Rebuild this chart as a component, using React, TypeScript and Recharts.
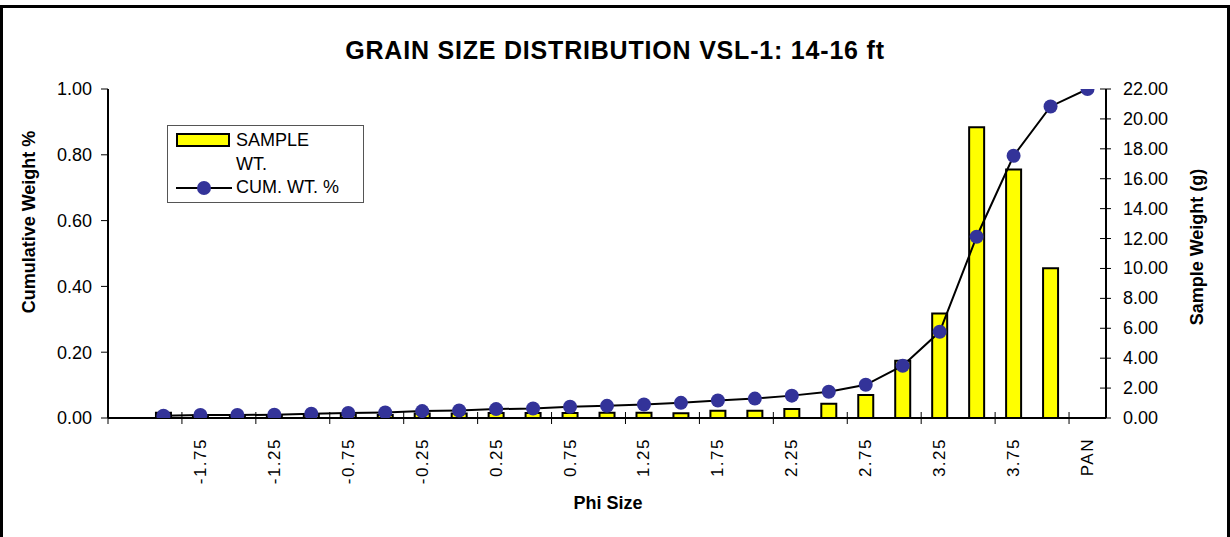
import React from "react";
import {
  ComposedChart,
  Bar,
  Line,
  XAxis,
  YAxis,
} from "recharts";

// phi size classes (first slot is an empty spacer category, as in the original sheet)
const phiSizes = [
  "", "-2.00", "-1.75", "-1.50", "-1.25", "-1.00", "-0.75", "-0.50", "-0.25",
  "0.00", "0.25", "0.50", "0.75", "1.00", "1.25", "1.50", "1.75", "2.00",
  "2.25", "2.50", "2.75", "3.00", "3.25", "3.50", "3.75", "4.00", "PAN",
];

// sample weight in grams, per class
const sampleWt = [
  null, 0.35, 0.15, 0.15, 0.15, 0.2, 0.2, 0.2, 0.3, 0.3, 0.33, 0.33, 0.33,
  0.35, 0.35, 0.31, 0.49, 0.49, 0.6, 0.96, 1.54, 3.83, 6.98, 19.44, 16.61,
  10.01, null,
];

// cumulative weight fraction
const cumWt = [
  null, 0.007, 0.009, 0.009, 0.01, 0.013, 0.015, 0.017, 0.021, 0.023, 0.027,
  0.029, 0.034, 0.037, 0.041, 0.046, 0.053, 0.059, 0.068, 0.08, 0.101, 0.159,
  0.262, 0.551, 0.797, 0.947, 1.0,
];

const leftTicks = [0, 0.2, 0.4, 0.6, 0.8, 1.0];
const rightTicks = [0, 2, 4, 6, 8, 10, 12, 14, 16, 18, 20, 22];

const FONT = '"Liberation Sans", Arial, Helvetica, sans-serif';

const data = phiSizes.map((phi, i) => ({
  phi,
  sample: sampleWt[i],
  cum: cumWt[i],
}));

const CHART_W = 1230;
const CHART_H = 537;
const MARGIN = { top: 89, right: 54, bottom: 59, left: 48 };
const LEFT_AXIS_W = 60;
const RIGHT_AXIS_W = 70;
const PLOT_W = CHART_W - MARGIN.left - MARGIN.right - LEFT_AXIS_W - RIGHT_AXIS_W;
const BAND = PLOT_W / phiSizes.length;

// x ticks: Excel-style tick marks sit on category boundaries, label in the middle
const PhiTick = (props: any) => {
  const { x, y, payload } = props;
  const edge = x - BAND / 2;
  return (
    <g>
      <line x1={edge} x2={edge} y1={y - 6} y2={y + 6} stroke="#000" strokeWidth={1} />
      <text
        x={x}
        y={y + 20}
        transform={`rotate(-90, ${x}, ${y + 20})`}
        textAnchor="end"
        dominantBaseline="central"
        fontSize={17}
        letterSpacing={1.5}
        fontFamily={FONT}
        fill="#000"
      >
        {payload.value}
      </text>
    </g>
  );
};

const RightTick = (props: any) => {
  const { x, y, payload } = props;
  return (
    <g>
      <line x1={x - 6} x2={x + 5} y1={y} y2={y} stroke="#000" strokeWidth={1} />
      <text
        x={x + 17}
        y={y}
        textAnchor="start"
        dominantBaseline="central"
        fontSize={18}
        fontFamily={FONT}
        fill="#000"
      >
        {Number(payload.value).toFixed(2)}
      </text>
    </g>
  );
};

const LegendBox = () => (
  <div
    style={{
      position: "absolute",
      left: 167,
      top: 125,
      width: 197,
      height: 78,
      border: "1px solid #555",
      background: "#fff",
      fontFamily: FONT,
      fontSize: 18,
      color: "#000",
      boxSizing: "border-box",
      lineHeight: "22px",
    }}
  >
    <div
      style={{
        position: "absolute",
        left: 8,
        top: 7,
        width: 54,
        height: 14,
        background: "#ffff00",
        border: "2px solid #000",
        boxSizing: "border-box",
      }}
    />
    <div style={{ position: "absolute", left: 68, top: 3 }}>SAMPLE</div>
    <div style={{ position: "absolute", left: 68, top: 27 }}>WT.</div>
    <svg style={{ position: "absolute", left: 8, top: 53 }} width={56} height={18}>
      <line x1={0} x2={56} y1={9} y2={9} stroke="#000" strokeWidth={2} />
      <circle cx={28} cy={9} r={7} fill="#333399" />
    </svg>
    <div style={{ position: "absolute", left: 68, top: 50 }}>CUM. WT. %</div>
  </div>
);

const App = () => {
  return (
    <div
      style={{
        position: "absolute",
        left: 0,
        top: 0,
        width: CHART_W,
        height: CHART_H,
        background: "#fff",
        overflow: "hidden",
        fontFamily: FONT,
      }}
    >
      <div
        style={{
          position: "absolute",
          left: 0,
          top: 5,
          width: CHART_W,
          height: 560,
          border: "3px solid #000",
          boxSizing: "border-box",
        }}
      />
      <div
        style={{
          position: "absolute",
          left: 0,
          width: CHART_W,
          top: 36,
          textAlign: "center",
          fontWeight: "bold",
          fontSize: 25,
          letterSpacing: 0.8,
        }}
      >
        GRAIN SIZE DISTRIBUTION VSL-1: 14-16 ft
      </div>

      <div style={{ position: "absolute", left: 0, top: 0 }}>
        <ComposedChart width={CHART_W} height={CHART_H} data={data} margin={MARGIN}>
          <XAxis
            dataKey="phi"
            interval={1}
            tick={<PhiTick />}
            tickLine={false}
            tickSize={0}
            tickMargin={0}
            height={60}
            axisLine={{ stroke: "#000", strokeWidth: 2 }}
          />
          <XAxis
            xAxisId="top"
            orientation="top"
            dataKey="phi"
            tick={false}
            tickLine={false}
            height={0}
            axisLine={{ stroke: "#000", strokeWidth: 2 }}
          />
          <YAxis
            yAxisId="left"
            domain={[0, 1]}
            ticks={leftTicks}
            interval={0}
            width={LEFT_AXIS_W}
            tickFormatter={(v: number) => v.toFixed(2)}
            tickSize={7}
            tickMargin={9}
            tick={{ fill: "#000", fontSize: 18, fontFamily: FONT }}
            tickLine={{ stroke: "#000" }}
            axisLine={{ stroke: "#000", strokeWidth: 2 }}
            allowDataOverflow
          />
          <YAxis
            yAxisId="right"
            orientation="right"
            domain={[0, 22]}
            ticks={rightTicks}
            interval={0}
            width={RIGHT_AXIS_W}
            tick={<RightTick />}
            tickLine={false}
            tickSize={0}
            tickMargin={0}
            axisLine={{ stroke: "#000", strokeWidth: 2 }}
            allowDataOverflow
          />
          <Bar
            yAxisId="right"
            dataKey="sample"
            name="SAMPLE WT."
            fill="#ffff00"
            stroke="#000"
            strokeWidth={2}
            barSize={15}
            isAnimationActive={false}
          />
          <Line
            yAxisId="left"
            dataKey="cum"
            name="CUM. WT. %"
            type="linear"
            stroke="#000"
            strokeWidth={2}
            dot={{ r: 7, fill: "#333399", stroke: "none" }}
            activeDot={false}
            isAnimationActive={false}
          />
        </ComposedChart>
      </div>

      <LegendBox />

      <div
        style={{
          position: "absolute",
          left: 29,
          top: 222,
          transform: "translate(-50%, -50%) rotate(-90deg)",
          whiteSpace: "nowrap",
          fontWeight: "bold",
          fontSize: 18,
        }}
      >
        Cumulative Weight %
      </div>
      <div
        style={{
          position: "absolute",
          left: 1197,
          top: 247,
          transform: "translate(-50%, -50%) rotate(-90deg)",
          whiteSpace: "nowrap",
          fontWeight: "bold",
          fontSize: 18,
        }}
      >
        Sample Weight (g)
      </div>
      <div
        style={{
          position: "absolute",
          left: 608,
          top: 503,
          transform: "translate(-50%, -50%)",
          whiteSpace: "nowrap",
          fontWeight: "bold",
          fontSize: 18,
        }}
      >
        Phi Size
      </div>
    </div>
  );
};

export default App;
